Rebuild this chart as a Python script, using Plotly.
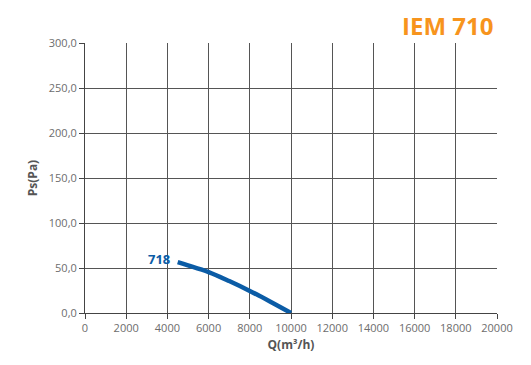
import plotly.graph_objects as go

q_values = [4500, 5000, 6000, 7000, 8000, 9000, 10000]
ps_values = [56.5, 53.0, 45.5, 35.5, 24.5, 12.5, 0.0]
curve_label = "718"
title_text = "IEM 710"
x_ticks = list(range(0, 20001, 2000))
y_ticks = [0, 50, 100, 150, 200, 250, 300]
y_tick_labels = ["0,0", "50,0", "100,0", "150,0", "200,0", "250,0", "300,0"]

blue = "#0b5ca6"
grid = "#555555"
tickc = "#6d6d6d"
fnt = "Open Sans"

fig = go.Figure()
fig.add_trace(go.Scatter(x=q_values, y=ps_values, mode="lines",
                         line=dict(color=blue, width=4.5, shape="spline"),
                         showlegend=False, hoverinfo="skip"))

fig.add_annotation(x=q_values[0], y=ps_values[0], text="<b>" + curve_label + "</b>",
                   showarrow=False, xanchor="right", yanchor="middle", xshift=-6, yshift=3,
                   font=dict(family=fnt, size=13, color=blue))

fig.add_annotation(xref="paper", yref="paper", x=0.995, y=1, yshift=18,
                   xanchor="right", yanchor="middle", showarrow=False,
                   text="<b>" + title_text + "</b>",
                   font=dict(family=fnt, size=24, color="#f7941d"))

# page body has an 8px default margin; compensate so the plot area lands where the reference has it
fig.update_layout(
    width=523, height=357,
    margin=dict(l=77, r=34, t=35, b=52),
    paper_bgcolor="white", plot_bgcolor="white",
    font=dict(family=fnt, color=tickc),
    xaxis=dict(range=[0, 20000], tickvals=x_ticks, ticktext=[str(v) for v in x_ticks],
               showgrid=True, gridcolor=grid, gridwidth=1,
               showline=True, linecolor="#444", linewidth=1,
               ticks="outside", ticklen=5, tickcolor="#444",
               tickfont=dict(family=fnt, size=11, color=tickc),
               zeroline=False, fixedrange=True,
               title=dict(text="<b>Q(m³/h)</b>", standoff=6,
                          font=dict(family=fnt, size=12, color="#555"))),
    yaxis=dict(range=[0, 300], tickvals=y_ticks, ticktext=y_tick_labels,
               showgrid=True, gridcolor=grid, gridwidth=1,
               showline=True, linecolor="#444", linewidth=1,
               ticks="outside", ticklen=5, tickcolor="#444",
               tickfont=dict(family=fnt, size=11, color=tickc),
               zeroline=False, fixedrange=True,
               title=dict(text="<b>Ps(Pa)</b>", standoff=8,
                          font=dict(family=fnt, size=12, color="#555"))),
)

fig.write_html("out.html")
